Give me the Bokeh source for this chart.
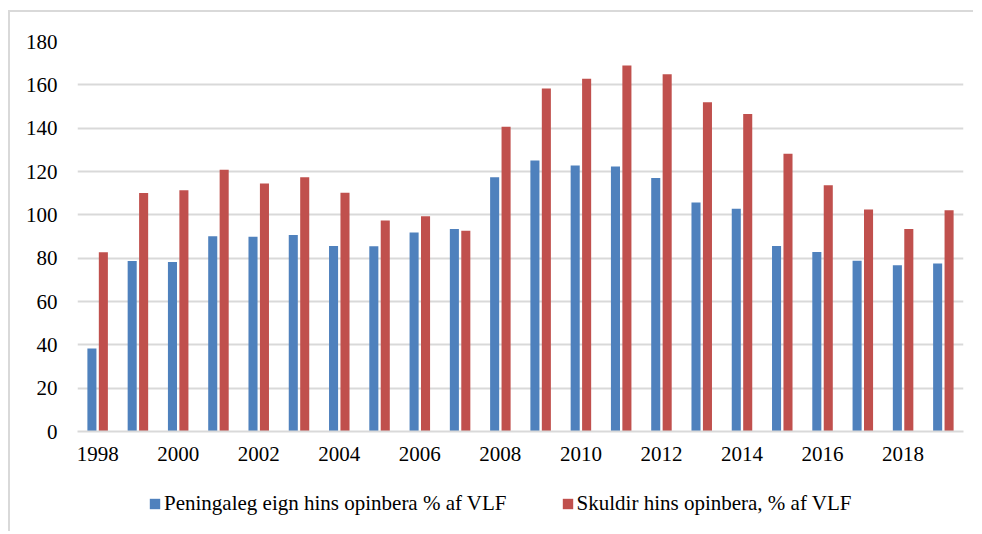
from bokeh.plotting import figure
from bokeh.models import ColumnDataSource, Range1d, FixedTicker, Legend, LegendItem
from bokeh.layouts import column
from bokeh.transform import dodge
from bokeh.embed import file_html
from bokeh.resources import INLINE

years = list(range(1998, 2020))
assets = [38.3, 78.7, 78.2, 90.1, 89.9, 90.7, 85.6, 85.5, 91.9, 93.5, 117.4,
          125.1, 122.8, 122.3, 117.0, 105.7, 102.8, 85.6, 82.8, 78.8, 76.7, 77.5]
debt = [82.7, 110.1, 111.4, 120.8, 114.5, 117.3, 110.2, 97.4, 99.3, 92.7, 140.6,
        158.3, 162.8, 168.9, 164.9, 152.0, 146.5, 128.2, 113.7, 102.5, 93.5, 102.1]
y_ticks = [0, 20, 40, 60, 80, 100, 120, 140, 160, 180]
x_ticks = [1998, 2000, 2002, 2004, 2006, 2008, 2010, 2012, 2014, 2016, 2018]
label_assets = "Peningaleg eign hins opinbera % af VLF"
label_debt = "Skuldir hins opinbera, % af VLF"
BLUE = "#4F81BD"
RED = "#C0504D"

src = ColumnDataSource(dict(year=years, assets=assets, debt=debt))

FONT = "Liberation Serif"
FS = "21px"

p = figure(width=963, height=459,
           x_range=Range1d(1997.5, 2019.5), y_range=Range1d(0, 180),
           output_backend="svg", toolbar_location=None,
           min_border_left=67, min_border_right=10, min_border_top=29,
           min_border_bottom=40)

p.vbar(x=dodge("year", -0.142), top="assets", width=0.225, source=src,
       fill_color=BLUE, line_color=None)
p.vbar(x=dodge("year", 0.142), top="debt", width=0.225, source=src,
       fill_color=RED, line_color=None)

p.outline_line_color = None
p.xgrid.grid_line_color = None
p.ygrid.grid_line_color = "#d9d9d9"
p.ygrid.grid_line_width = 2
p.ygrid.ticker = FixedTicker(ticks=y_ticks)

p.yaxis.ticker = FixedTicker(ticks=y_ticks)
p.yaxis.axis_line_color = None
p.yaxis.major_tick_line_color = None
p.yaxis.minor_tick_line_color = None
p.yaxis.major_label_standoff = 14
p.yaxis.major_label_text_font = FONT
p.yaxis.major_label_text_font_size = FS
p.yaxis.major_label_text_color = "black"

p.xaxis.ticker = FixedTicker(ticks=x_ticks)
p.xaxis.axis_line_color = "#d9d9d9"
p.xaxis.axis_line_width = 2
p.xaxis.major_tick_line_color = None
p.xaxis.minor_tick_line_color = None
p.xaxis.major_label_standoff = 9
p.xaxis.major_label_text_font = FONT
p.xaxis.major_label_text_font_size = FS
p.xaxis.major_label_text_color = "black"

# legend strip below the chart
lg = figure(width=963, height=60, x_range=Range1d(0, 1), y_range=Range1d(0, 1),
            output_backend="svg", toolbar_location=None,
            min_border_left=0, min_border_right=0, min_border_top=0,
            min_border_bottom=0)
lg.axis.visible = False
lg.grid.visible = False
lg.outline_line_color = None
k1 = lg.vbar(x=[-5], top=[0], width=0.1, fill_color=BLUE, line_color=None)
k2 = lg.vbar(x=[-5], top=[0], width=0.1, fill_color=RED, line_color=None)

legend = Legend(items=[LegendItem(label=label_assets, renderers=[k1]),
                       LegendItem(label=label_debt, renderers=[k2])],
                orientation="horizontal", location=(71, 15),
                glyph_width=13, glyph_height=13, label_standoff=3, spacing=54,
                label_text_font=FONT, label_text_font_size=FS,
                label_text_color="black", border_line_color=None,
                background_fill_alpha=0, margin=0, padding=0)
lg.add_layout(legend)

layout = column(p, lg, spacing=0)
layout.styles = {"border-left": "2px solid #d9d9d9", "border-top": "2px solid #d9d9d9",
                 "margin-left": "8px", "margin-top": "10px"}

open("out.html", "w").write(file_html(layout, INLINE))
